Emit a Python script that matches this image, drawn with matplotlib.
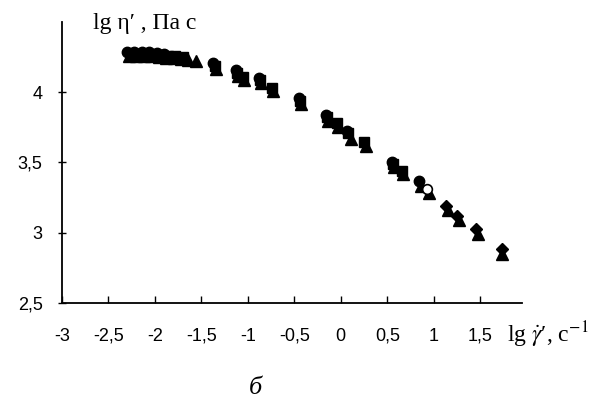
import matplotlib.pyplot as plt

# lg(shear rate) and lg(viscosity) for each marker series
circ_x = [-2.3, -2.22, -2.14, -2.06, -1.98, -1.9, -1.37, -1.13, -0.88, -0.45, -0.16, 0.07, 0.55, 0.84]
circ_y = [4.285, 4.285, 4.285, 4.285, 4.28, 4.275, 4.21, 4.155, 4.10, 3.955, 3.835, 3.725, 3.505, 3.365]

sq_x = [-2.26, -2.18, -2.1, -2.02, -1.94, -1.86, -1.78, -1.7, -1.355, -1.12, -1.05, -0.87, -0.74,
        -0.44, -0.15, -0.04, 0.08, 0.25, 0.56, 0.66]
sq_y = [4.27, 4.27, 4.27, 4.27, 4.265, 4.26, 4.255, 4.25, 4.19, 4.14, 4.11, 4.09, 4.03,
        3.94, 3.82, 3.78, 3.71, 3.645, 3.49, 3.44]

tri_x = [-2.28, -2.2, -2.12, -2.04, -1.96, -1.88, -1.8, -1.72, -1.64, -1.56, -1.345, -1.11, -1.04,
         -0.86, -0.73, -0.43, -0.14, -0.03, 0.11, 0.27, 0.57, 0.67, 0.86, 0.95, 1.15, 1.27, 1.48, 1.73]
tri_y = [4.255, 4.255, 4.255, 4.255, 4.25, 4.245, 4.24, 4.235, 4.23, 4.225, 4.165, 4.115, 4.085,
         4.065, 4.005, 3.915, 3.795, 3.755, 3.665, 3.62, 3.465, 3.415, 3.33, 3.28, 3.16, 3.09, 2.99, 2.85]

dia_x = [1.13, 1.25, 1.46, 1.74]
dia_y = [3.19, 3.12, 3.025, 2.885]

open_x = [0.93]
open_y = [3.31]

xticks = [-3, -2.5, -2, -1.5, -1, -0.5, 0, 0.5, 1, 1.5]
yticks = [2.5, 3, 3.5, 4]


def fmt(t):
    return str(int(t)) if t == int(t) else str(t).replace('.', ',')


plt.rcParams['font.family'] = ['Liberation Sans', 'DejaVu Sans']

fig = plt.figure(figsize=(6.05, 4.01), dpi=100)
ax = fig.add_axes([62 / 605, 1 - 302.7 / 401, 460 / 605, 280.7 / 401])

ax.plot(circ_x, circ_y, 'o', color='black', markersize=7.5, zorder=3)
ax.plot(sq_x, sq_y, 's', color='black', markersize=7, zorder=3)
ax.plot(tri_x, tri_y, '^', color='black', markersize=8, zorder=3)
ax.plot(dia_x, dia_y, 'D', color='black', markersize=6.5, zorder=3)
ax.plot(open_x, open_y, 'o', mfc='white', mec='black', mew=1.2, markersize=7, zorder=4)

ax.set_xlim(-3, 1.95)
ax.set_ylim(2.5, 4.5)
ax.set_xticks(xticks)
ax.set_yticks(yticks)
ax.set_xticklabels([fmt(t) for t in xticks])
ax.set_yticklabels([fmt(t) for t in yticks])

for s in ['top', 'right']:
    ax.spines[s].set_visible(False)
ax.spines['left'].set_linewidth(1.3)
ax.spines['bottom'].set_linewidth(1.3)

ax.tick_params(axis='x', direction='in', length=5, pad=18, labelsize=13, width=1)
ax.tick_params(axis='y', direction='inout', length=6, pad=11, labelsize=13, width=1)

serif = ['Liberation Serif', 'DejaVu Serif']
fig.text(93 / 605, 1 - 29 / 401, "lg η′ , Па с", family=serif, fontsize=17,
         ha='left', va='baseline')
fig.text(507 / 605, 1 - 342 / 401, r"lg $\dot{\gamma}$′, с$^{-1}$", family=serif, fontsize=17,
         ha='left', va='baseline', math_fontfamily='stix')
fig.text(255 / 605, 1 - 388 / 401, "б", family=serif, fontsize=19, style='italic',
         ha='center', va='center')

fig.savefig('out.png', dpi=100)
